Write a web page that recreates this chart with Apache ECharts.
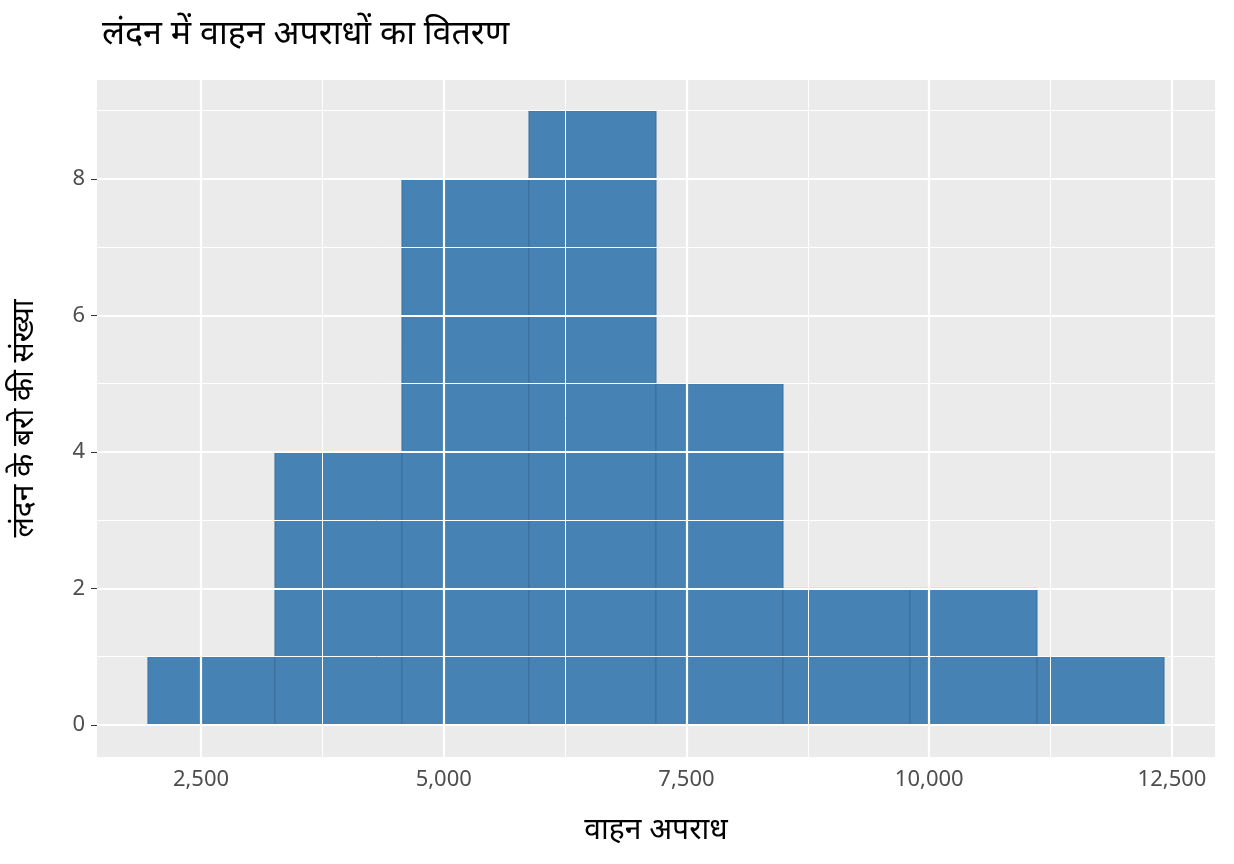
<!DOCTYPE html>
<html><head><meta charset="utf-8">
<script src="https://cdn.jsdelivr.net/npm/echarts@6/dist/echarts.min.js"></script>
<style>html,body{margin:0;background:#fff}#c{width:1234px;height:864px}</style>
</head><body><div id="c"></div>
<script>
const binStarts = [1954, 3262, 4570, 5878, 7186, 8494, 9802, 11110];
const binEnds   = [3262, 4570, 5878, 7186, 8494, 9802, 11110, 12418];
const counts    = [1, 4, 8, 9, 5, 2, 2, 1];
const xMajor = [2500, 5000, 7500, 10000, 12500];
const xMinor = [3750, 6250, 8750, 11250];
const yMajor = [0, 2, 4, 6, 8];
const yMinor = [1, 3, 5, 7, 9];
const title = 'लंदन में वाहन अपराधों का वितरण';
const xName = 'वाहन अपराध';
const yName = 'लंदन के बरो की संख्या';

const font = "'Noto Sans', sans-serif";
const data = binStarts.map((s, i) => [s, binEnds[i], counts[i]]);
const ml = [];
xMinor.forEach(v => ml.push({xAxis: v, lineStyle: {width: 1}}));
yMinor.forEach(v => ml.push({yAxis: v, lineStyle: {width: 1}}));
xMajor.forEach(v => ml.push({xAxis: v, lineStyle: {width: 2.2}}));
yMajor.forEach(v => ml.push({yAxis: v, lineStyle: {width: 2.2}}));

const chart = echarts.init(document.getElementById('c'));
chart.setOption({
  animation: false,
  title: {text: title, left: 97, top: 12, textStyle: {fontFamily: font, fontSize: 34, fontWeight: 'normal', color: '#000'}},
  grid: {left: 97, right: 19, top: 80, bottom: 107, show: true, backgroundColor: '#EBEBEB', borderWidth: 0},
  xAxis: {type: 'value', min: 1429, max: 12943,
    name: xName, nameLocation: 'middle', nameGap: 58,
    nameTextStyle: {fontFamily: font, fontSize: 30, color: '#000'},
    axisLine: {show: false}, splitLine: {show: false},
    axisTick: {show: true, customValues: xMajor, length: 6, lineStyle: {color: '#333'}},
    axisLabel: {customValues: xMajor, fontFamily: font, fontSize: 22, color: '#4D4D4D', margin: 12}},
  yAxis: {type: 'value', min: -0.47, max: 9.45,
    name: yName, nameLocation: 'middle', nameGap: 58,
    nameTextStyle: {fontFamily: font, fontSize: 30, color: '#000'},
    axisLine: {show: false}, splitLine: {show: false},
    axisTick: {show: true, customValues: yMajor, length: 6, lineStyle: {color: '#333'}},
    axisLabel: {customValues: yMajor, fontFamily: font, fontSize: 22, color: '#4D4D4D', margin: 12}},
  series: [
    {type: 'line', data: [], z: 1, silent: true,
      markLine: {silent: true, symbol: 'none', label: {show: false}, lineStyle: {color: '#fff', type: 'solid'}, data: ml}},
    {type: 'custom', z: 3, data: data,
      renderItem: (params, api) => {
        const p0 = api.coord([api.value(0), api.value(2)]);
        const p1 = api.coord([api.value(1), 0]);
        return {type: 'rect', shape: {x: p0[0], y: p0[1], width: p1[0] - p0[0], height: p1[1] - p0[1]},
          style: {fill: '#4682B4', stroke: '#3A6E9A', lineWidth: 1}};
      }}
  ]
});
</script></body></html>
